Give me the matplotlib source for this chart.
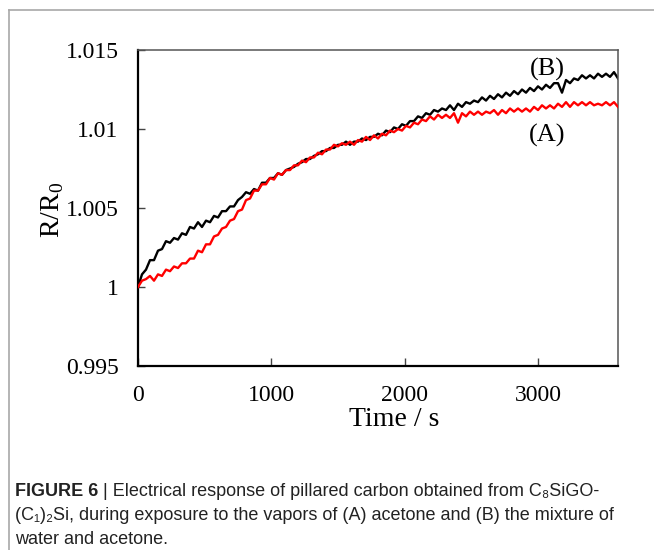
import numpy as np
import matplotlib
matplotlib.use("Agg")
import matplotlib.pyplot as plt
from matplotlib.lines import Line2D

# ---- data ----
time_s = np.arange(0, 3601, 30)

r_acetone = [  # (A) red
    1.0000, 1.0004, 1.0005, 1.0007, 1.0004, 1.0008, 1.0007, 1.0011, 1.0010, 1.0013,
    1.0012, 1.0015, 1.0015, 1.0018, 1.0018, 1.0023, 1.0022, 1.0027, 1.0027, 1.0032,
    1.0033, 1.0037, 1.0038, 1.0042, 1.0043, 1.0048, 1.0049, 1.0055, 1.0056, 1.0061,
    1.0061, 1.0065, 1.0065, 1.0069, 1.0068, 1.0072, 1.0071, 1.0074, 1.0074, 1.0077,
    1.0077, 1.0080, 1.0079, 1.0082, 1.0082, 1.0085, 1.0084, 1.0087, 1.0087, 1.0090,
    1.0089, 1.0091, 1.0090, 1.0092, 1.0090, 1.0093, 1.0092, 1.0095, 1.0093, 1.0096,
    1.0094, 1.0097, 1.0096, 1.0099, 1.0098, 1.0100, 1.0099, 1.0102, 1.0101, 1.0104,
    1.0103, 1.0106, 1.0105, 1.0108, 1.0106, 1.0109, 1.0107, 1.0109, 1.0107, 1.0110,
    1.0104, 1.0110, 1.0108, 1.0111, 1.0109, 1.0111, 1.0109, 1.0111, 1.0110, 1.0112,
    1.0109, 1.0112, 1.0110, 1.0113, 1.0111, 1.0113, 1.0111, 1.0113, 1.0111, 1.0114,
    1.0112, 1.0115, 1.0113, 1.0115, 1.0113, 1.0116, 1.0114, 1.0117, 1.0114, 1.0117,
    1.0115, 1.0117, 1.0115, 1.0117, 1.0115, 1.0116, 1.0115, 1.0117, 1.0115, 1.0117,
    1.0114,
]

r_mixture = [  # (B) black
    1.0000, 1.0008, 1.0011, 1.0017, 1.0017, 1.0023, 1.0024, 1.0029, 1.0028, 1.0031,
    1.0030, 1.0034, 1.0033, 1.0038, 1.0037, 1.0041, 1.0038, 1.0042, 1.0041, 1.0045,
    1.0044, 1.0048, 1.0048, 1.0051, 1.0051, 1.0055, 1.0057, 1.0060, 1.0059, 1.0062,
    1.0061, 1.0066, 1.0066, 1.0069, 1.0069, 1.0072, 1.0071, 1.0074, 1.0075, 1.0076,
    1.0078, 1.0079, 1.0081, 1.0081, 1.0083, 1.0084, 1.0086, 1.0086, 1.0088, 1.0088,
    1.0090, 1.0090, 1.0092, 1.0090, 1.0092, 1.0092, 1.0094, 1.0093, 1.0095, 1.0095,
    1.0097, 1.0096, 1.0099, 1.0098, 1.0101, 1.0100, 1.0103, 1.0102, 1.0105, 1.0105,
    1.0108, 1.0107, 1.0110, 1.0109, 1.0112, 1.0111, 1.0113, 1.0112, 1.0115, 1.0112,
    1.0116, 1.0114, 1.0117, 1.0116, 1.0118, 1.0117, 1.0120, 1.0118, 1.0121, 1.0119,
    1.0122, 1.0120, 1.0123, 1.0121, 1.0124, 1.0122, 1.0125, 1.0123, 1.0126, 1.0124,
    1.0127, 1.0125, 1.0128, 1.0126, 1.0129, 1.0129, 1.0123, 1.0131, 1.0129, 1.0132,
    1.0131, 1.0134, 1.0132, 1.0134, 1.0132, 1.0135, 1.0133, 1.0135, 1.0133, 1.0136,
    1.0132,
]

x_ticks = [0, 1000, 2000, 3000]
x_tick_labels = ["0", "1000", "2000", "3000"]
y_ticks = [0.995, 1.0, 1.005, 1.01, 1.015]
y_tick_labels = ["0.995", "1", "1.005", "1.01", "1.015"]
series_labels = ["(A)", "(B)"]

caption_bold = "FIGURE 6"
caption_line1 = " | Electrical response of pillared carbon obtained from C\u2088SiGO-"
caption_line2 = "(C\u2081)\u2082Si, during exposure to the vapors of (A) acetone and (B) the mixture of"
caption_line3 = "water and acetone."

# ---- figure ----
plt.rcParams["mathtext.fontset"] = "custom"
plt.rcParams["mathtext.rm"] = "Liberation Serif"
serif = ["Liberation Serif", "DejaVu Serif"]
sans = ["Liberation Sans", "DejaVu Sans"]

W, H = 654, 550
fig = plt.figure(figsize=(W / 100, H / 100), dpi=100)
fig.patch.set_facecolor("white")

L, R, T, B = 138, 618, 50, 366
ax = fig.add_axes([L / W, 1 - B / H, (R - L) / W, (B - T) / H])

ax.plot(time_s, r_acetone, color="#ff0000", lw=1.7, zorder=3)
ax.plot(time_s, r_mixture, color="black", lw=1.7, zorder=2)

ax.set_xlim(0, 3600)
ax.set_ylim(0.995, 1.015)
ax.set_xticks(x_ticks)
ax.set_xticklabels(x_tick_labels, fontfamily=serif, fontsize=17)
ax.set_yticks(y_ticks)
ax.set_yticklabels(y_tick_labels, fontfamily=serif, fontsize=17)

ax.tick_params(axis="y", direction="in", length=5, width=1, color="#444444", pad=14)
ax.tick_params(axis="x", direction="in", length=6, width=1, color="#444444", pad=14)

for s in ["left", "bottom"]:
    ax.spines[s].set_color("black")
    ax.spines[s].set_linewidth(1.6)
for s in ["top", "right"]:
    ax.spines[s].set_color("#555555")
    ax.spines[s].set_linewidth(1.1)

ax.text((394 - L) / (R - L), (B - 420) / (B - T), "Time / s", transform=ax.transAxes,
        ha="center", va="center", fontfamily=serif, fontsize=20)
ax.text((53 - L) / (R - L), (B - 210) / (B - T), r"R/R$_\mathregular{0}$", transform=ax.transAxes,
        ha="center", va="center", rotation=90, fontfamily=serif, fontsize=20)

ax.text(3067, 1.0138, series_labels[1], ha="center", va="center", fontfamily=serif, fontsize=19)
ax.text(3067, 1.0096, series_labels[0], ha="center", va="center", fontfamily=serif, fontsize=19)

# outer frame (left and top edges)
fig.add_artist(Line2D([9 / W, 9 / W], [0, 1 - 10 / H], transform=fig.transFigure,
                      color="#a8a8a8", lw=1.2))
fig.add_artist(Line2D([9 / W, 1], [1 - 10 / H, 1 - 10 / H], transform=fig.transFigure,
                      color="#a8a8a8", lw=1.2))

# caption
cx = 15 / W
fs_cap = 13.0
t_bold = fig.text(cx, 1 - 492 / H, caption_bold, fontfamily=sans, fontweight="bold",
                  fontsize=fs_cap, va="center", ha="left", color="#222222")
fig.canvas.draw()
rend = fig.canvas.get_renderer()
bb = t_bold.get_window_extent(rend)
fig.text(bb.x1 / W, 1 - 492 / H, caption_line1, fontfamily=sans, fontsize=fs_cap,
         va="center", ha="left", color="#222222")
fig.text(cx, 1 - 516 / H, caption_line2, fontfamily=sans, fontsize=fs_cap,
         va="center", ha="left", color="#222222")
fig.text(cx, 1 - 539 / H, caption_line3, fontfamily=sans, fontsize=fs_cap,
         va="center", ha="left", color="#222222")

fig.savefig("out.png", dpi=100, facecolor="white")
